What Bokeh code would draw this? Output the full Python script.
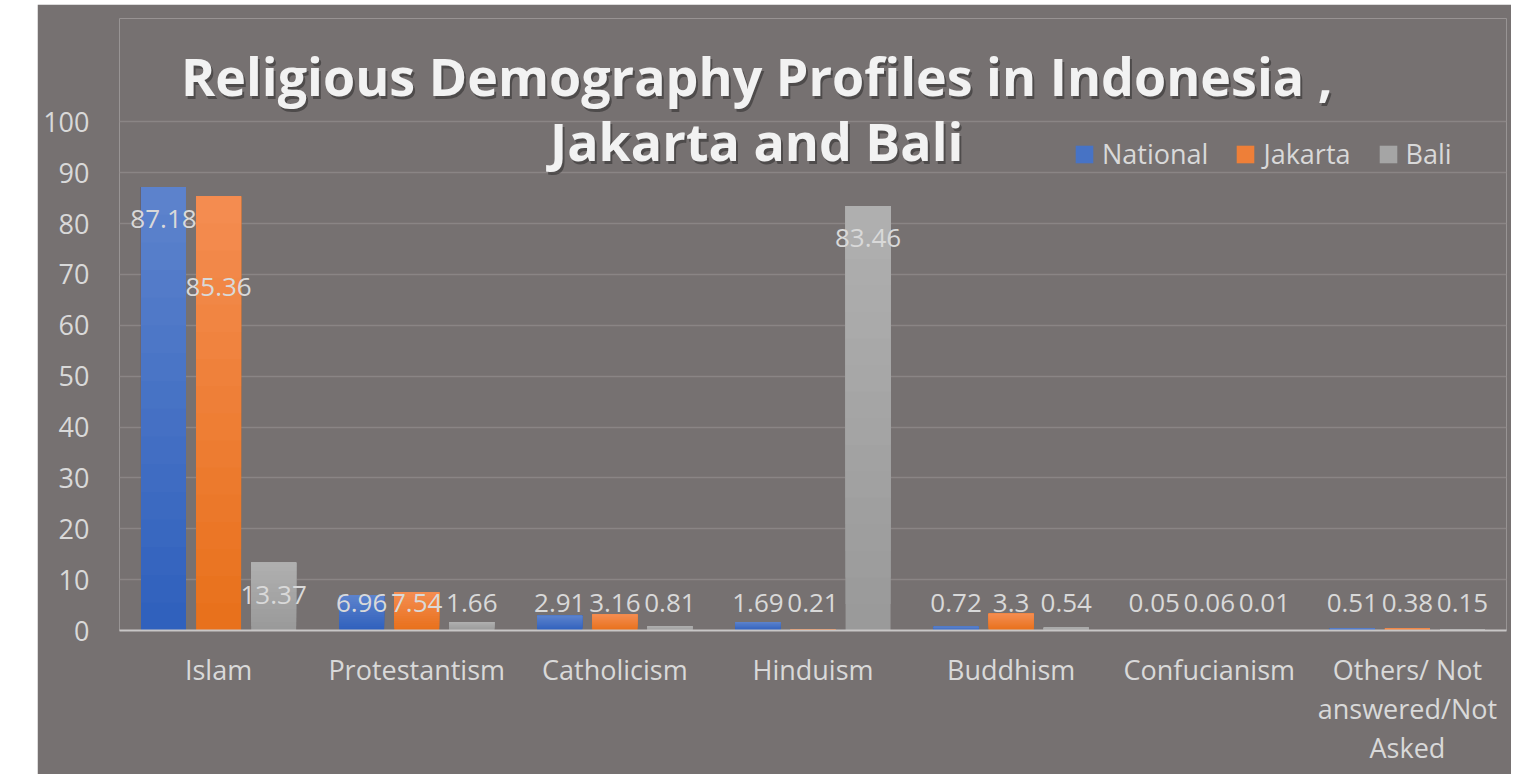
from bokeh.plotting import figure
from bokeh.models import (FactorRange, Range1d, FixedTicker, Label, Legend, LegendItem,
                          ColumnDataSource, Spacer)
from bokeh.layouts import row, column
from bokeh.transform import dodge
from bokeh.embed import file_html
from bokeh.resources import INLINE
from bokeh.core.properties import value

# ---------------- data ----------------
categories = ["Islam", "Protestantism", "Catholicism", "Hinduism", "Buddhism",
              "Confucianism", "Others/ Not\nanswered/Not\nAsked"]
national = [87.18, 6.96, 2.91, 1.69, 0.72, 0.05, 0.51]
jakarta = [85.36, 7.54, 3.16, 0.21, 3.3, 0.06, 0.38]
bali = [13.37, 1.66, 0.81, 83.46, 0.54, 0.01, 0.15]
series_names = ["National", "Jakarta", "Bali"]
y_ticks = [0, 10, 20, 30, 40, 50, 60, 70, 80, 90, 100]
title_lines = ["Religious Demography Profiles in Indonesia ,", "Jakarta and Bali"]

# ---------------- style ----------------
BG = "#767171"
TXT = "#d9d9d9"
GRAD = [("#2f60bc", "#5d83cd"), ("#e8701a", "#f48d52"), ("#999999", "#b0b0b0")]
FONT = "Open Sans"
OFFSETS = [-0.278, 0.0, 0.278]
BAR_W = 0.227
N_STEPS = 16
LABEL_DROP = 6.3     # data units below bar top (inside end)
LABEL_FLOOR = 5.5    # minimum label height (data units)
# Excel moved a colliding label down; extra nudge in pixels per series/category
label_nudge_px = {("Jakarta", 0): 59}


def lerp_hex(c0, c1, t):
    a = [int(c0[i:i + 2], 16) for i in (1, 3, 5)]
    b = [int(c1[i:i + 2], 16) for i in (1, 3, 5)]
    return "#%02x%02x%02x" % tuple(round(x + (y - x) * t) for x, y in zip(a, b))


p = figure(x_range=FactorRange(*categories), y_range=Range1d(0, 120.3),
           width=1474, height=770, output_backend="svg", toolbar_location=None,
           min_border_left=82, min_border_right=5, min_border_top=14, min_border_bottom=144,
           background_fill_color=BG, border_fill_color=BG, outline_line_color=None)

legend_renderers = []
for name, vals, off, (c_bot, c_top) in zip(series_names, [national, jakarta, bali],
                                           OFFSETS, GRAD):
    xs = dodge("cat", off, range=p.x_range)
    # vertical gradient: overlapping slices, each starting higher and lighter
    slices = []
    for k in range(N_STEPS):
        f = k / N_STEPS
        src_k = ColumnDataSource(dict(cat=categories, v=vals, b=[v * f for v in vals]))
        r = p.vbar(x=xs, top="v", bottom="b", width=BAR_W, source=src_k,
                   fill_color=lerp_hex(c_bot, c_top, (k + 0.5) / N_STEPS), line_color=None)
        slices.append(r)
    legend_renderers.append(slices[N_STEPS // 2])

    ly = [max(v - LABEL_DROP, LABEL_FLOOR) for v in vals]
    nud = [label_nudge_px.get((name, i), 0) for i in range(len(vals))]
    src = ColumnDataSource(dict(cat=categories, ly=ly, nud=nud, txt=[str(v) for v in vals]))
    p.text(x=xs, y="ly", text="txt", y_offset="nud",
           source=src, text_align="center", text_baseline="middle",
           text_color=TXT, text_font=value(FONT), text_font_size="26px")

# axes
p.yaxis.ticker = FixedTicker(ticks=y_ticks)
p.yaxis.axis_line_color = None
p.yaxis.major_tick_line_color = None
p.yaxis.minor_tick_line_color = None
p.yaxis.major_tick_out = 0
p.yaxis.major_label_standoff = 30
p.yaxis.major_label_text_color = TXT
p.yaxis.major_label_text_font = FONT
p.yaxis.major_label_text_font_size = "27px"

p.xaxis.axis_line_color = "#c8c6c6"
p.xaxis.axis_line_width = 2
p.xaxis.major_tick_line_color = None
p.xaxis.minor_tick_line_color = None
p.xaxis.major_tick_out = 0
p.xaxis.major_label_standoff = 20
p.xaxis.major_label_text_color = TXT
p.xaxis.major_label_text_font = FONT
p.xaxis.major_label_text_font_size = "27px"
p.xaxis.major_label_text_line_height = 1.06

p.xgrid.grid_line_color = None
p.ygrid.grid_line_color = "#8a8585"
p.ygrid.grid_line_width = 1.5

# legend
legend = Legend(items=[LegendItem(label=n, renderers=[r]) for n, r in zip(series_names, legend_renderers)],
                orientation="horizontal", location=(954, 458),
                background_fill_alpha=0, border_line_color=None,
                label_text_color=TXT, label_text_font=FONT, label_text_font_size="27px",
                glyph_width=22, glyph_height=22, padding=0, margin=0, spacing=26,
                label_standoff=7)
p.add_layout(legend)

# title (two lines with a soft shadow)
title_x = 3.216
title_y = [109.1, 96.3]
for t, ty in zip(title_lines, title_y):
    p.add_layout(Label(x=title_x, y=ty, text=t, x_offset=2, y_offset=-3,
                       text_align="center", text_baseline="middle",
                       text_color="#2e2b2b", text_alpha=0.55, text_font=FONT,
                       text_font_size="52px", text_font_style="bold"))
    p.add_layout(Label(x=title_x, y=ty, text=t,
                       text_align="center", text_baseline="middle",
                       text_color="#f2f2f2", text_font=FONT,
                       text_font_size="52px", text_font_style="bold"))

layout = column(Spacer(height=4), row(Spacer(width=37, height=770), p))
open("out.html", "w").write(file_html(layout, INLINE))
